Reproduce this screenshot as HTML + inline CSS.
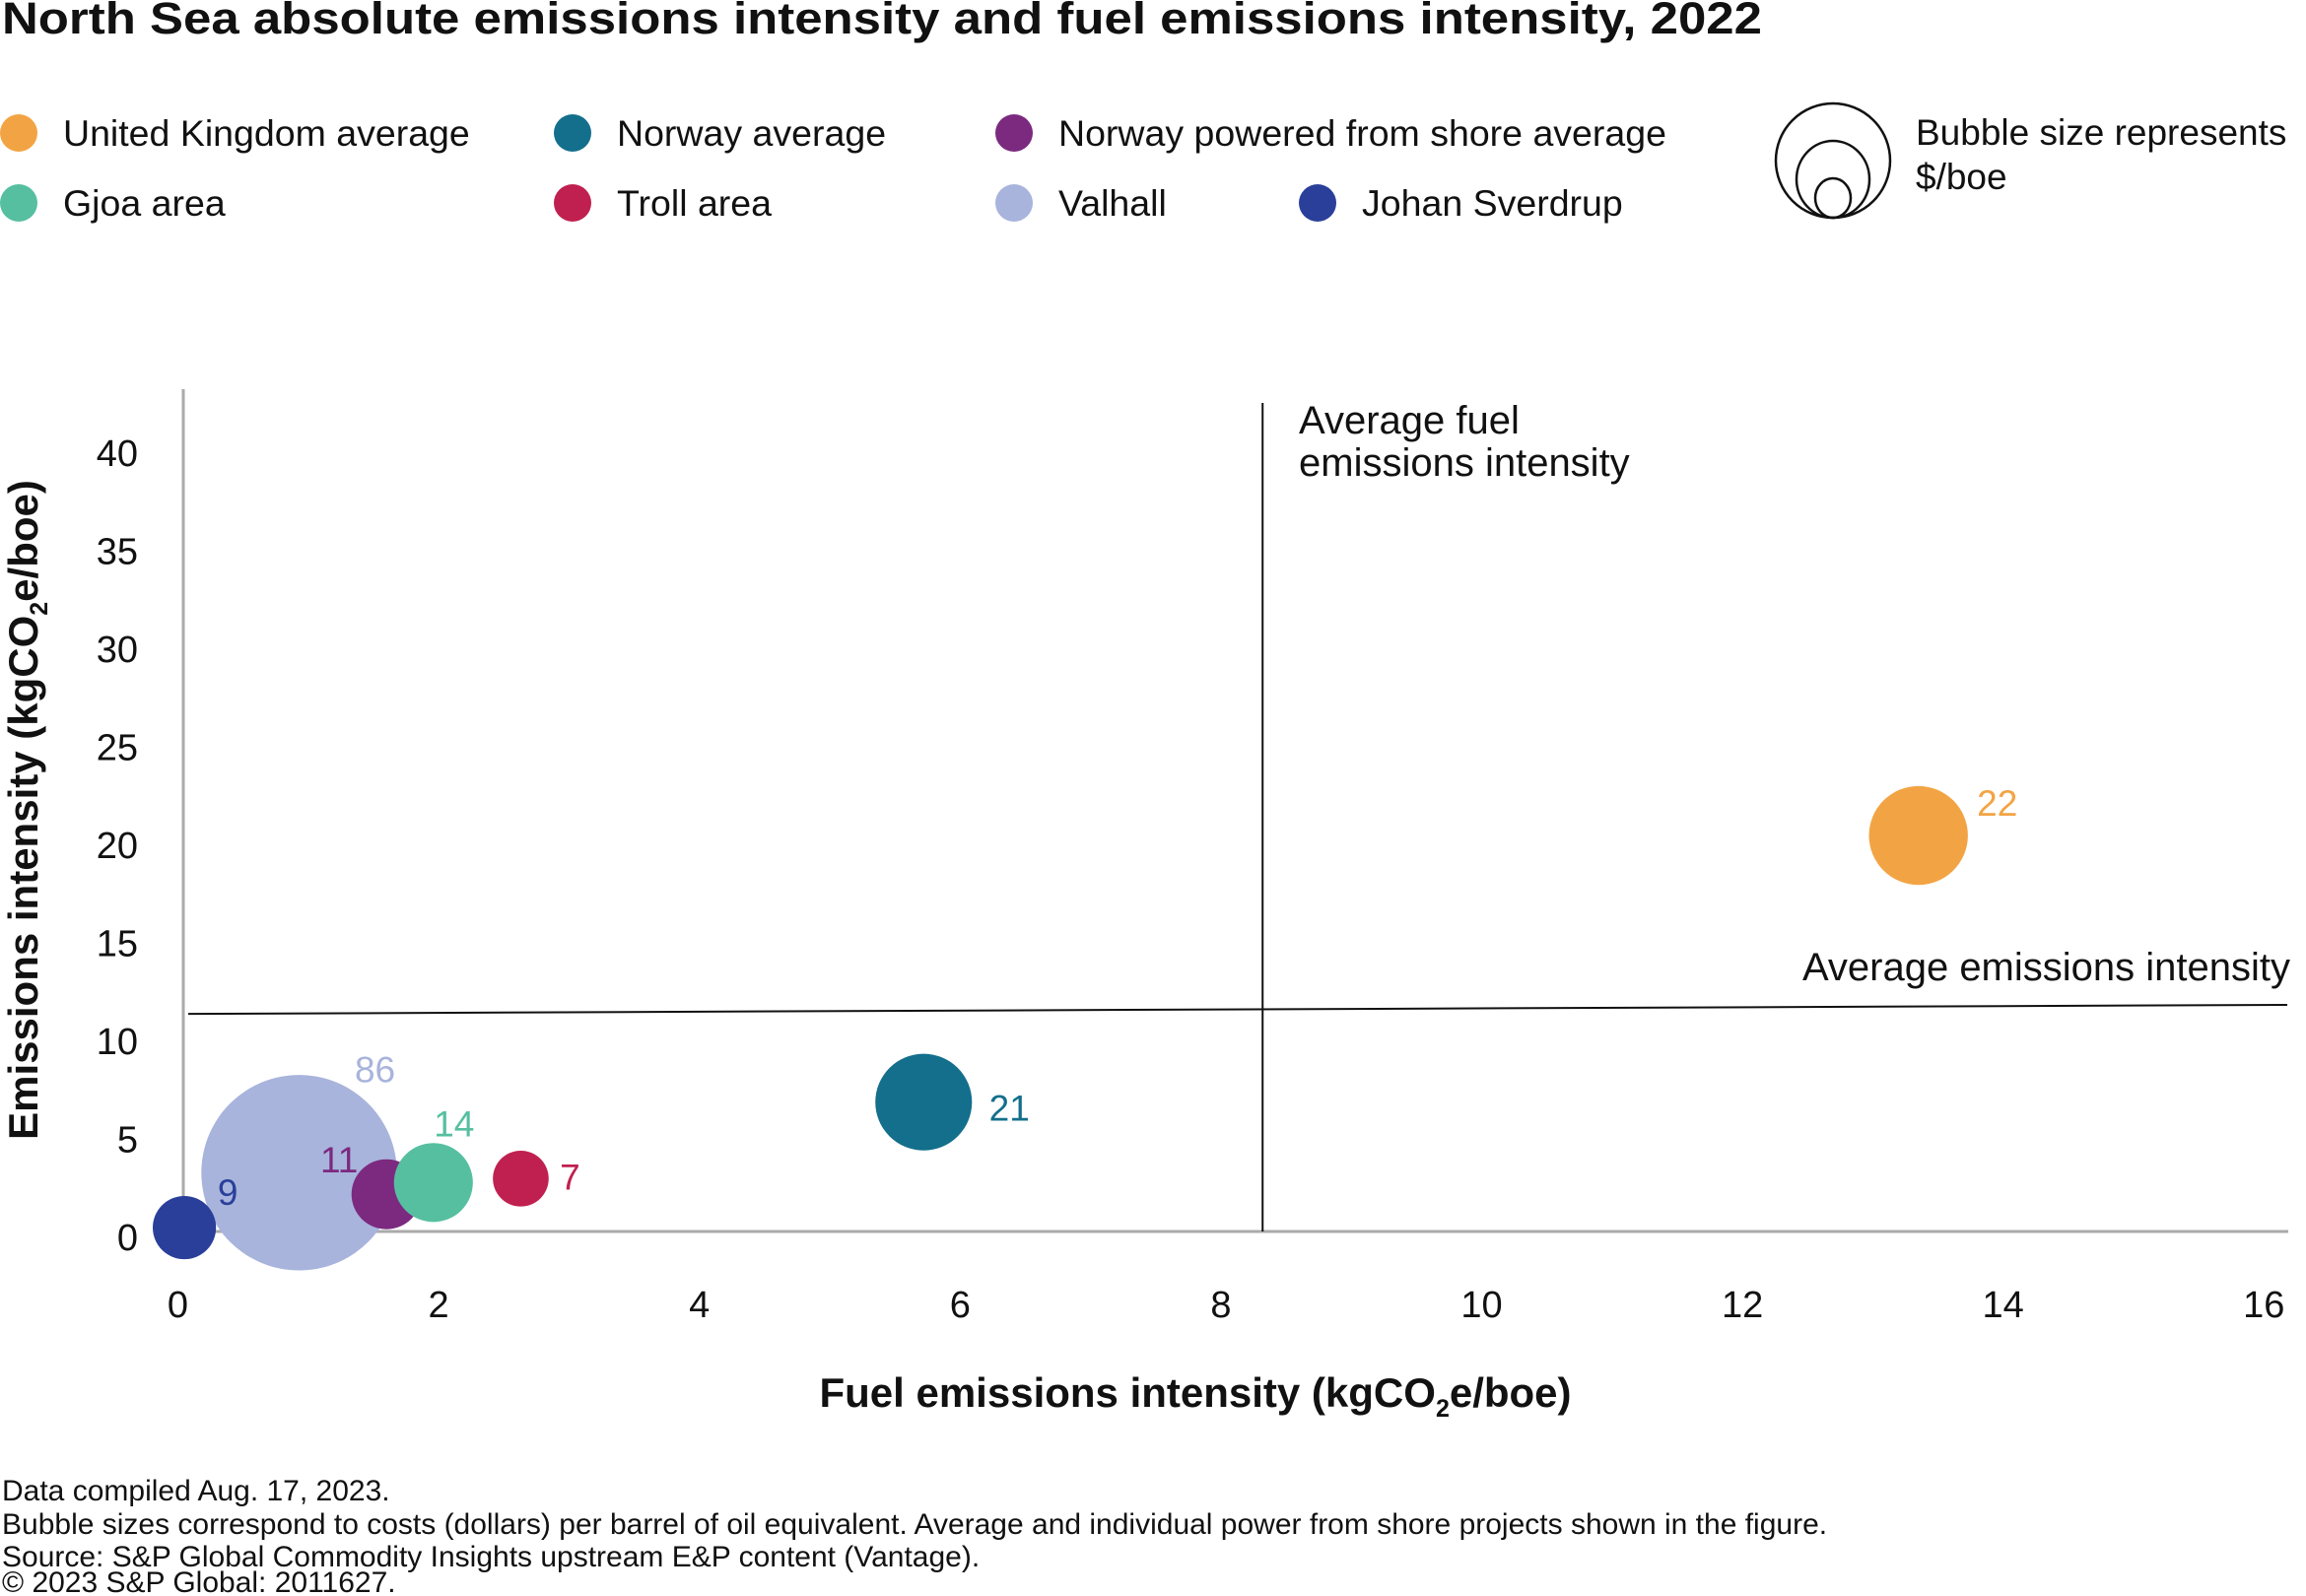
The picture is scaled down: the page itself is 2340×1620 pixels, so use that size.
<!DOCTYPE html>
<html><head><meta charset="utf-8"><style>
html,body{margin:0;padding:0;background:#fff;}
svg{display:block;font-family:"Liberation Sans",Arial,sans-serif;}
</style></head><body>
<svg id="chart" width="2340" height="1620" viewBox="0 0 2340 1620" xmlns="http://www.w3.org/2000/svg">
<text x="2" y="34" font-size="45" font-weight="bold" fill="#111" textLength="1786" lengthAdjust="spacingAndGlyphs">North Sea absolute emissions intensity and fuel emissions intensity, 2022</text>
<g id="legend" font-size="37.5" fill="#111"></g>
<g>
<ellipse cx="1860" cy="163" rx="58" ry="58" fill="none" stroke="#111" stroke-width="2.5"/>
<ellipse cx="1860" cy="182" rx="37" ry="39" fill="none" stroke="#111" stroke-width="2.5"/>
<ellipse cx="1860" cy="201" rx="18" ry="20" fill="none" stroke="#111" stroke-width="2.5"/>
<text x="1944" y="147" font-size="37" fill="#111">Bubble size represents</text>
<text x="1944" y="192" font-size="37" fill="#111">$/boe</text>
</g>
<g id="axes"></g>
<g id="marks"></g>
<text x="1213" y="1428" font-size="42" font-weight="bold" text-anchor="middle" fill="#111">Fuel emissions intensity (kgCO<tspan font-size="25" dy="10">2</tspan><tspan dy="-10">e/boe)</tspan></text>
<text transform="translate(38,822) rotate(-90)" font-size="42" font-weight="bold" text-anchor="middle" fill="#111">Emissions intensity (kgCO<tspan font-size="25" dy="10">2</tspan><tspan dy="-10">e/boe)</tspan></text>
<text x="1318" y="440" font-size="40" fill="#111">Average fuel</text>
<text x="1318" y="483" font-size="40" fill="#111">emissions intensity</text>
<text x="2324" y="995" font-size="40" text-anchor="end" fill="#111">Average emissions intensity</text>
<g font-size="30" fill="#111">
<text x="2" y="1523">Data compiled Aug. 17, 2023.</text>
<text x="2" y="1557">Bubble sizes correspond to costs (dollars) per barrel of oil equivalent. Average and individual power from shore projects shown in the figure.</text>
<text x="2" y="1590">Source: S&amp;P Global Commodity Insights upstream E&amp;P content (Vantage).</text>
<text x="2" y="1616">© 2023 S&amp;P Global: 2011627.</text>
</g>
</svg>
<script>
const names=["Valhall","Johan Sverdrup","Norway powered from shore average","Gjoa area","Troll area","Norway average","United Kingdom average"];
const fuelX=[0.93,0.05,1.6,1.96,2.63,5.72,13.35];
const emisY=[3.3,0.5,2.2,2.8,3.0,6.9,20.5];
const costs=[86,9,11,14,7,21,22];
const colors=["#A8B4DC","#2A3F9A","#7B2A80","#56BFA0","#C0204F","#136F8C","#F2A444"];
const labelDx=[77,44,-48,21,50,87,80];
const labelDy=[-105,-36,-35,-60,-2,6,-33];
const xTicks=[0,2,4,6,8,10,12,14,16];
const yTicks=[0,5,10,15,20,25,30,35,40];
const avgFuel=8.32;
const avgEmisLeft=11.4, avgEmisRight=11.86;
const legendNames=["United Kingdom average","Norway average","Norway powered from shore average","Gjoa area","Troll area","Valhall","Johan Sverdrup"];
const legendColors=["#F2A444","#136F8C","#7B2A80","#56BFA0","#C0204F","#A8B4DC","#2A3F9A"];
const NS="http://www.w3.org/2000/svg";
const X=v=>180.5+132.3*v;
const Y=v=>1256-19.9*v;
const R=v=>10.7*Math.sqrt(v);
function mk(tag,attrs,parent,txt){const e=document.createElementNS(NS,tag);for(const k in attrs)e.setAttribute(k,attrs[k]);if(txt!==undefined)e.textContent=txt;parent.appendChild(e);return e;}
const axes=document.getElementById('axes'),marks=document.getElementById('marks'),leg=document.getElementById('legend');
const lx=[19,581,1029,19,581,1029,1337],ly=[135,135,135,206,206,206,206];
legendNames.forEach((n,i)=>{
 const g=mk('g',{},leg);
 
 
 mk('circle',{cx:lx[i],cy:ly[i],r:19,fill:legendColors[i]},g);
 mk('text',{x:lx[i]+45,y:ly[i]+13},g,n);
});
const ya=mk('line',{x1:186,y1:395,x2:186,y2:1250,stroke:'#aaa','stroke-width':3},axes);


const xa=mk('line',{x1:186,y1:1250,x2:2322,y2:1250,stroke:'#aaa','stroke-width':3},axes);


xTicks.forEach(t=>{const e=mk('text',{x:X(t),y:1337,'font-size':38,'text-anchor':'middle',fill:'#111'},axes,t);
 
 });
yTicks.forEach(t=>{const e=mk('text',{x:140,y:Y(t)+13,'font-size':38,'text-anchor':'end',fill:'#111'},axes,t);
 
 });
const vl=mk('line',{x1:X(avgFuel),y1:409,x2:X(avgFuel),y2:1250,stroke:'#111','stroke-width':2},axes);


const hl=mk('line',{x1:191,y1:Y(avgEmisLeft),x2:2321,y2:Y(avgEmisRight),stroke:'#111','stroke-width':2},axes);


names.forEach((n,i)=>{
 const c=mk('circle',{cx:X(fuelX[i]),cy:Y(emisY[i]),r:R(costs[i]),fill:colors[i]},marks);
 
 
});
names.forEach((n,i)=>{
 const t=mk('text',{x:X(fuelX[i])+labelDx[i],y:Y(emisY[i])+labelDy[i]+13,'font-size':37,'text-anchor':'middle',fill:colors[i]},marks,costs[i]);
 
 
});
</script>
</body></html>
